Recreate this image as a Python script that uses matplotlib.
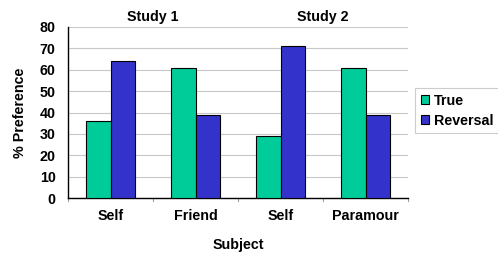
import matplotlib
matplotlib.use("Agg")
import matplotlib.pyplot as plt
import numpy as np

categories = ["Self", "Friend", "Self", "Paramour"]
true_vals = [36, 61, 29, 61]
reversal_vals = [64, 39, 71, 39]
study_labels = ["Study 1", "Study 2"]
yticks = [0, 10, 20, 30, 40, 50, 60, 70, 80]

plt.rcParams['font.family'] = ['Liberation Sans', 'DejaVu Sans']
plt.rcParams['font.weight'] = 'bold'
FS = 10.3

fig = plt.figure(figsize=(4.98, 2.54), dpi=100)
ax = fig.add_axes([68/498, 1-198/254, 340/498, 171/254])

x = np.arange(len(categories))
w = 0.29
ax.bar(x - w/2, true_vals, w, color="#00CC99", edgecolor="black", linewidth=0.8, label="True", zorder=3)
ax.bar(x + w/2, reversal_vals, w, color="#3333CC", edgecolor="black", linewidth=0.8, label="Reversal", zorder=3)

ax.set_xlim(-0.5, len(categories) - 0.5)
ax.set_ylim(0, 80)
ax.set_yticks(yticks)
ax.set_yticklabels([str(t) for t in yticks], fontsize=FS, fontweight='bold')
ax.yaxis.grid(True, color="#c8c8c8", linewidth=0.8, zorder=0)
ax.tick_params(axis='y', length=0, pad=9)

ax.set_xticks(x)
ax.set_xticklabels(categories, fontsize=FS, fontweight='bold')
ax.tick_params(axis='x', length=0, pad=8)
for b in np.arange(-0.5, len(categories), 1.0):
    ax.plot([b, b], [0, -1.5], color="#a0a0a0", linewidth=0.8, clip_on=False, zorder=2)

for side in ["top", "right"]:
    ax.spines[side].set_visible(False)
ax.spines["left"].set_color("black")
ax.spines["bottom"].set_color("black")
ax.spines["left"].set_linewidth(1.0)
ax.spines["bottom"].set_linewidth(1.0)

ax.set_xlabel("Subject", fontsize=FS, fontweight='bold', labelpad=11)
ax.set_ylabel("% Preference", fontsize=FS, fontweight='bold', labelpad=9)

for i, s in enumerate(study_labels):
    ax.text(0.5 + 2*i, 84.5, s, ha='center', va='center', fontsize=FS, fontweight='bold')

leg = ax.legend(loc='center left', bbox_to_anchor=((415 - 68)/340, 0.51), fontsize=FS,
                frameon=True, fancybox=False, edgecolor="#c0c0c0", handlelength=0.6,
                handleheight=0.6, handletextpad=0.3, borderpad=0.4, labelspacing=0.4,
                borderaxespad=0)
leg.get_frame().set_linewidth(0.8)
for t in leg.get_texts():
    t.set_fontweight('bold')

fig.savefig("out.png", dpi=100)
